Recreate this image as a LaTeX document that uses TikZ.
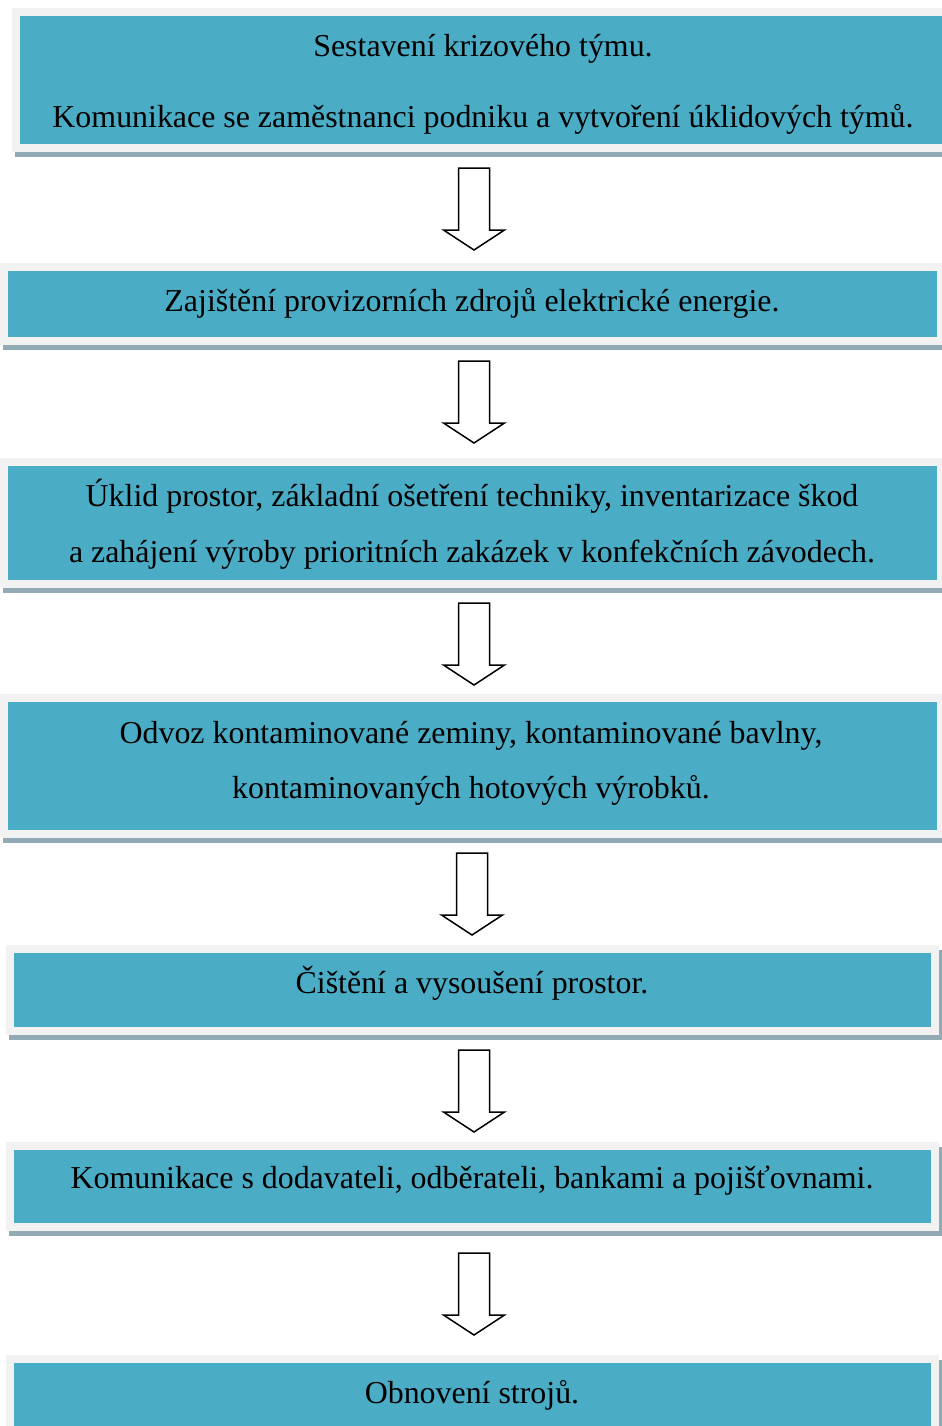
\documentclass[tikz,border=0pt]{standalone}
\usepackage{fontspec}
\setmainfont{Liberation Serif}
\definecolor{boxblue}{HTML}{4BACC6}
\definecolor{boxframe}{HTML}{F2F2F2}
\definecolor{boxshadow}{HTML}{92AAB4}
\begin{document}
\begin{tikzpicture}[x=0.5pt,y=-0.5pt,
  txt/.style={anchor=base,inner sep=0pt,font=\fontsize{15.95}{20}\selectfont},
  blockarrow/.style={draw=black,line width=0.75pt,fill=white,line join=miter}]
\useasboundingbox (0,0) rectangle (942,1426);
% Box 1
\fill[boxshadow] (15,13) rectangle (957,157);
\fill[boxframe] (12,8) rectangle (954,152);
\fill[boxblue] (20,16) rectangle (946,144);
% Box 2
\fill[boxshadow] (3,268) rectangle (945,350);
\fill[boxframe] (0,263) rectangle (945,345);
\fill[boxblue] (8,271) rectangle (937,337);
% Box 3
\fill[boxshadow] (3,463) rectangle (945,593);
\fill[boxframe] (0,458) rectangle (945,588);
\fill[boxblue] (8,466) rectangle (937,580);
% Box 4
\fill[boxshadow] (3,699) rectangle (945,843);
\fill[boxframe] (0,694) rectangle (945,838);
\fill[boxblue] (8,702) rectangle (937,830);
% Box 5
\fill[boxshadow] (9,950) rectangle (942,1040);
\fill[boxframe] (6,945) rectangle (939,1035);
\fill[boxblue] (14,953) rectangle (931,1027);
% Box 6
\fill[boxshadow] (9,1147) rectangle (942,1236);
\fill[boxframe] (6,1142) rectangle (939,1231);
\fill[boxblue] (14,1150) rectangle (931,1223);
% Box 7
\fill[boxshadow] (9,1360) rectangle (942,1440);
\fill[boxframe] (6,1355) rectangle (939,1440);
\fill[boxblue] (14,1363) rectangle (931,1440);

% Texts
\node[txt] (t1a) at (483,56) {Sestavení krizového týmu.};
\node[txt] (t1b) at (483,127) {Komunikace se zaměstnanci podniku a vytvoření úklidových týmů.};
\node[txt] (t2) at (472,311) {Zajištění provizorních zdrojů elektrické energie.};
\node[txt] (t3a) at (472,506) {Úklid prostor, základní ošetření techniky, inventarizace škod};
\node[txt] (t3b) at (472,562) {a zahájení výroby prioritních zakázek v konfekčních závodech.};
\node[txt] (t4a) at (471,743) {Odvoz kontaminované zeminy, kontaminované bavlny,};
\node[txt] (t4b) at (471,798) {kontaminovaných hotových výrobků.};
\node[txt] (t5) at (472,993) {Čištění a vysoušení prostor.};
\node[txt] (t6) at (472,1188) {Komunikace s dodavateli, odběrateli, bankami a pojišťovnami.};
\node[txt] (t7) at (472,1403) {Obnovení strojů.};

% Block arrows
\coordinate (a1) at (474,168);
\coordinate (a2) at (474,361);
\coordinate (a3) at (474,603);
\coordinate (a4) at (472,853);
\coordinate (a5) at (474,1050);
\coordinate (a6) at (474,1253);
\foreach \a in {a1,a2,a3,a4,a5,a6}{
  \draw[blockarrow] (\a) ++(-15.5,0) -- ++(31,0) -- ++(0,62) -- ++(15,0)
     -- ++(-30.5,20) -- ++(-30.5,-20) -- ++(15,0) -- cycle;
}
\end{tikzpicture}
\end{document}
